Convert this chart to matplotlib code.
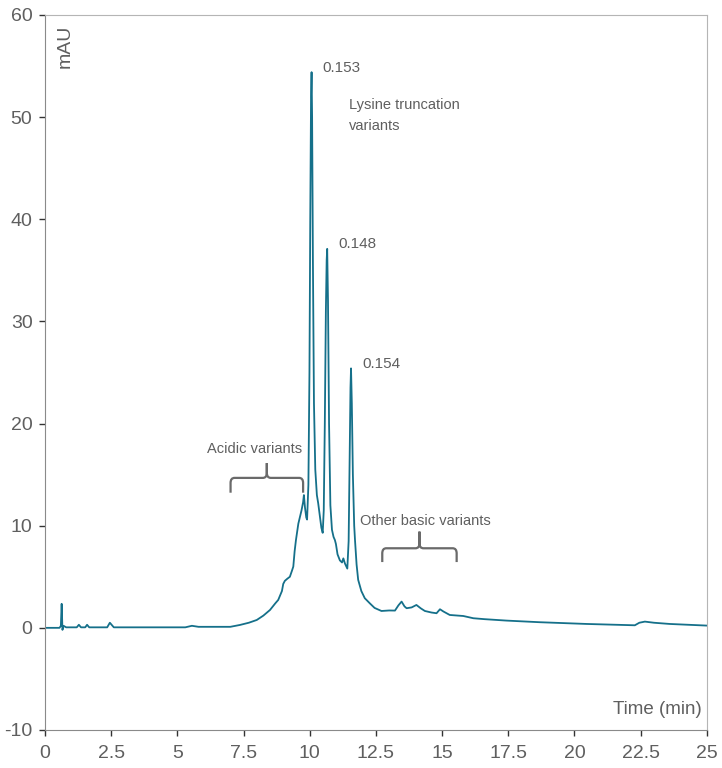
import matplotlib
matplotlib.use('Agg')
import matplotlib.pyplot as plt
from matplotlib.path import Path
from matplotlib.patches import PathPatch

plt.rcParams['font.family'] = ['Liberation Sans', 'DejaVu Sans']
plt.rcParams['axes.unicode_minus'] = False

# chromatogram trace (time in min, absorbance in mAU)
time_min = [0.00, 0.55, 0.60, 0.63, 0.66, 0.70, 0.80, 1.20, 1.28, 1.36, 1.52, 1.59, 1.67,
            2.35, 2.45, 2.60, 5.30, 5.55, 5.80, 7.00, 7.36, 7.70, 8.00, 8.25, 8.50, 8.70,
            8.81, 8.95, 9.00, 9.06, 9.15, 9.25, 9.33, 9.38, 9.43, 9.48, 9.57, 9.69, 9.75,
            9.78, 9.82, 9.87, 9.90, 9.95, 9.99, 10.02, 10.05, 10.07, 10.09, 10.12, 10.16,
            10.21, 10.27, 10.32, 10.38, 10.44, 10.49, 10.53, 10.57, 10.61, 10.64, 10.66,
            10.69, 10.73, 10.78, 10.84, 10.90, 10.95, 10.99, 11.05, 11.14, 11.22, 11.27,
            11.33, 11.42, 11.47, 11.51, 11.54, 11.56, 11.59, 11.63, 11.68, 11.71, 11.77,
            11.83, 11.95, 12.08, 12.27, 12.45, 12.71, 13.00, 13.22, 13.35, 13.47, 13.58,
            13.66, 13.85, 14.03, 14.20, 14.35, 14.60, 14.79, 14.92, 15.05, 15.29, 15.80,
            16.18, 16.60, 17.43, 18.69, 20.46, 22.28, 22.45, 22.66, 23.00, 23.60, 25.00]
signal_mau = [0.00, 0.00, 0.20, 2.35, -0.20, 0.20, 0.05, 0.05, 0.30, 0.05, 0.05, 0.30, 0.05,
              0.05, 0.50, 0.05, 0.05, 0.20, 0.10, 0.10, 0.28, 0.50, 0.77, 1.20, 1.75, 2.40,
              2.73, 3.60, 4.30, 4.60, 4.80, 5.00, 5.60, 6.00, 7.50, 8.60, 10.20, 11.50, 12.30,
              13.00, 11.80, 10.80, 10.60, 14.00, 25.00, 40.00, 52.00, 54.40, 50.00, 36.00, 22.00,
              15.50, 13.00, 12.20, 11.00, 9.80, 9.30, 11.50, 20.00, 31.00, 36.00, 37.10,
              32.00, 20.00, 12.00, 9.60, 8.90, 8.60, 8.20, 7.20, 6.60, 6.40, 6.80,
              6.30, 5.80, 8.50, 17.00, 23.50, 25.40, 22.00, 15.00, 10.00, 8.60, 6.20,
              4.70, 3.60, 2.90, 2.40, 1.95, 1.65, 1.70, 1.69, 2.20, 2.57, 2.10,
              1.92, 2.00, 2.24, 1.90, 1.65, 1.50, 1.43, 1.82, 1.60, 1.26, 1.16,
              0.94, 0.85, 0.71, 0.55, 0.38, 0.25, 0.50, 0.61, 0.50, 0.38, 0.22]

# peak labels
peak_time = [10.46, 11.10, 11.97]
peak_y = [54.8, 37.6, 25.8]
peak_text = ['0.153', '0.148', '0.154']

x_ticks = [0, 2.5, 5, 7.5, 10, 12.5, 15, 17.5, 20, 22.5, 25]
x_ticklabels = ['0', '2.5', '5', '7.5', '10', '12.5', '15', '17.5', '20', '22.5', '25']
y_ticks = [-10, 0, 10, 20, 30, 40, 50, 60]

line_color = '#15708a'
text_color = '#5f5f5f'
brace_color = '#6a6a6a'


def draw_brace(ax, x0, x1, y, tip, drop, rx=0.15, ry=0.5):
    xm = (x0 + x1) / 2
    verts = [(x0, y - drop), (x0, y - ry), (x0, y), (x0 + rx, y),
             (xm - rx, y), (xm, y), (xm, y + ry), (xm, y + tip),
             (xm, y + ry), (xm, y), (xm + rx, y),
             (x1 - rx, y), (x1, y), (x1, y - ry), (x1, y - drop)]
    codes = [Path.MOVETO, Path.LINETO, Path.CURVE3, Path.CURVE3,
             Path.LINETO, Path.CURVE3, Path.CURVE3, Path.LINETO,
             Path.LINETO, Path.CURVE3, Path.CURVE3,
             Path.LINETO, Path.CURVE3, Path.CURVE3, Path.LINETO]
    ax.add_patch(PathPatch(Path(verts, codes), fill=False, edgecolor=brace_color,
                           linewidth=1.6, capstyle='butt'))


fig = plt.figure(figsize=(7.22, 7.68), dpi=100)
ax = fig.add_axes([0.0623, 0.0495, 0.9167, 0.931])

ax.plot(time_min, signal_mau, color=line_color, linewidth=1.3)

ax.set_xlim(0, 25)
ax.set_ylim(-10, 60)
ax.set_xticks(x_ticks)
ax.set_xticklabels(x_ticklabels)
ax.set_yticks(y_ticks)
ax.tick_params(axis='both', direction='out', length=4, width=1, color='#333333',
               labelsize=14, labelcolor=text_color)
ax.tick_params(axis='x', pad=7)
ax.tick_params(axis='y', pad=5)

for side in ['left', 'bottom']:
    ax.spines[side].set_color('#8a8a8a')
for side in ['top', 'right']:
    ax.spines[side].set_color('#b5b5b5')

for t, v, s in zip(peak_time, peak_y, peak_text):
    ax.text(t, v, s, fontsize=11, color=text_color, ha='left', va='center')

ax.text(11.48, 50.15, 'Lysine truncation\nvariants', fontsize=10.5, color=text_color,
        ha='left', va='center', linespacing=1.65)
ax.text(7.93, 17.5, 'Acidic variants', fontsize=10.5, color=text_color, ha='center', va='center')
ax.text(14.37, 10.45, 'Other basic variants', fontsize=10.5, color=text_color,
        ha='center', va='center')

draw_brace(ax, 7.01, 9.75, 14.68, 1.45, 1.45)
draw_brace(ax, 12.74, 15.55, 7.79, 1.63, 1.35)

ax.text(0.76, 59.0, 'mAU', fontsize=14, color=text_color, rotation=90, ha='center', va='top')
ax.text(24.8, -8.0, 'Time (min)', fontsize=13.5, color=text_color, ha='right', va='center')

fig.savefig('out.png', dpi=100)
